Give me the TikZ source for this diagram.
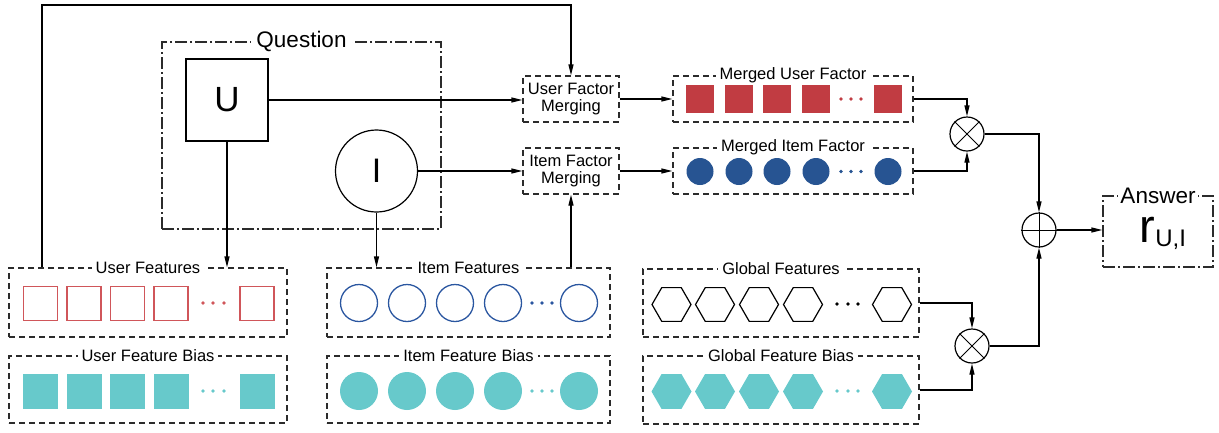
\documentclass[tikz,border=0pt]{standalone}
\usepackage{fontspec}
\setmainfont{Liberation Sans}
\usetikzlibrary{shapes.geometric,arrows.meta}
\definecolor{mred}{HTML}{C13C42}
\definecolor{fred}{HTML}{D0565A}
\definecolor{mblue}{HTML}{275492}
\definecolor{fblue}{HTML}{2A56A0}
\definecolor{bteal}{HTML}{67C9CB}
\definecolor{dline}{HTML}{2B2B2B}
\begin{document}
\begin{tikzpicture}[x=1pt,y=-1pt,line width=1.2pt,
    arr/.style={-{Triangle[length=11pt,width=5pt]}},
    dbox/.style={draw=dline,dash pattern=on 6pt off 4pt,inner sep=0},
    ddbox/.style={draw=dline,dash pattern=on 12pt off 3pt on 2pt off 3pt,inner sep=0},
    ttl/.style={fill=white,inner xsep=4pt,inner ysep=0pt,font=\fontsize{16.5}{18}\selectfont},
    bigttl/.style={fill=white,inner xsep=5pt,inner ysep=0pt,font=\fontsize{22.5}{24}\selectfont},
    opnode/.style={circle,draw,minimum size=34pt,inner sep=0},
    msq/.style={fill=mred,minimum size=28pt,inner sep=0},
    mdot/.style={circle,fill=mblue,minimum size=27pt,inner sep=0},
    fsq/.style={draw=fred,line width=1.4pt,minimum size=34pt,inner sep=0},
    bsq/.style={fill=bteal,minimum size=35pt,inner sep=0},
    fcirc/.style={circle,draw=fblue,line width=1.3pt,minimum size=37pt,inner sep=0},
    bcirc/.style={circle,fill=bteal,minimum size=38pt,inner sep=0},
    fhex/.style={regular polygon,regular polygon sides=6,draw,line width=1.2pt,minimum size=39pt,inner sep=0},
    bhex/.style={regular polygon,regular polygon sides=6,fill=bteal,minimum size=40pt,inner sep=0}]
    \useasboundingbox (0,0) rectangle (1219,432);

    % question part
    \node[ddbox,minimum width=279pt,minimum height=187pt] (question) at (301.5,135.5) {};
    \node[draw,minimum size=82pt,inner sep=0,font=\fontsize{35}{35}\selectfont] (U) at (227,100) {U};
    \node[circle,draw,minimum size=82pt,inner sep=0,font=\fontsize{34}{34}\selectfont] (I) at (376.5,171) {I};

    % merging
    \node[dbox,minimum width=96pt,minimum height=46pt,align=center,font=\fontsize{16.5}{17.5}\selectfont] (ufm) at (571,99) {User Factor\\Merging};
    \node[dbox,minimum width=96pt,minimum height=46pt,align=center,font=\fontsize{16.5}{17.5}\selectfont] (ifm) at (571,171) {Item Factor\\Merging};
    \node[dbox,minimum width=240pt,minimum height=46pt] (muf) at (793,99) {};
    \node[dbox,minimum width=240pt,minimum height=46pt] (mif) at (793,171) {};

    % feature boxes
    \node[dbox,minimum width=278pt,minimum height=69pt] (uf) at (148,302.5) {};
    \node[dbox,minimum width=278pt,minimum height=67pt] (ufb) at (148,389.5) {};
    \node[dbox,minimum width=283pt,minimum height=69pt] (if) at (468.5,302.5) {};
    \node[dbox,minimum width=283pt,minimum height=67pt] (ifb) at (468.5,389.5) {};
    \node[dbox,minimum width=276pt,minimum height=68pt] (gf) at (781,303) {};
    \node[dbox,minimum width=276pt,minimum height=68pt] (gfb) at (781,390) {};

    % operators and answer
    \node[opnode] (mul1) at (967,134) {};
    \node[opnode] (plus) at (1039,230) {};
    \node[opnode] (mul2) at (972,346) {};
    \draw[line width=1pt] (mul1.north west) -- (mul1.south east) (mul1.north east) -- (mul1.south west);
    \draw[line width=1pt] (mul2.north west) -- (mul2.south east) (mul2.north east) -- (mul2.south west);
    \draw[line width=1pt] (plus.north) -- (plus.south) (plus.west) -- (plus.east);
    \node[ddbox,minimum width=110pt,minimum height=71pt] (ans) at (1158,231.5) {};
    \node[anchor=base west,inner sep=0] (rui) at (1139,242)
        {{\fontsize{47}{47}\selectfont r}\raisebox{-4pt}{\fontsize{24}{24}\selectfont U,I}};

    % vector entries
    \foreach \x [count=\i] in {700,739,777,816,888}
        \node[msq] (ms\i) at (\x,99) {};
    \foreach \x [count=\i] in {700,739,777,816,888}
        \node[mdot] (md\i) at (\x,171.5) {};
    \foreach \x in {841,851,861} {
        \fill[mred] (\x,99) circle (1.8);
        \fill[mblue] (\x,171.5) circle (1.8);
    }
    \foreach \x [count=\i] in {40.5,84,127.5,171,257} {
        \node[fsq] (us\i) at (\x,303.5) {};
        \node[bsq] (ub\i) at (\x,391.5) {};
    }
    \foreach \x in {203,213,224} {
        \fill[fred] (\x,303) circle (1.8);
        \fill[bteal] (\x,391) circle (1.8);
    }
    \foreach \x [count=\i] in {359,407,455,503,579} {
        \node[fcirc] (ic\i) at (\x,303) {};
        \node[bcirc] (ib\i) at (\x,391) {};
    }
    \foreach \x in {532,542,552} {
        \fill[fblue] (\x,303) circle (1.8);
        \fill[bteal] (\x,391) circle (1.8);
    }
    \foreach \x [count=\i] in {671.5,715,759,803,892} {
        \node[fhex] (gh\i) at (\x,304.5) {};
        \node[bhex] (gb\i) at (\x,391.5) {};
    }
    \foreach \x in {837,848,858} {
        \fill[black] (\x,304) circle (1.8);
        \fill[bteal] (\x,391) circle (1.8);
    }

    % connectors
    \coordinate (looptop) at (42,5);
    \draw[arr] (looptop |- uf.north) -- (looptop) -| (ufm.north);
    \draw[arr] (U.east) -- (U.east -| ufm.west);
    \draw[arr] (I.east) -- (I.east -| ifm.west);
    \draw[arr] (U.south) -- (U.south |- uf.north);
    \draw[arr] (I.south) -- (I.south |- if.north);
    \draw[arr] (if.north -| ifm.south) -- (ifm.south);
    \draw[arr] (ufm.east) -- (muf.west);
    \draw[arr] (ifm.east) -- (mif.west);
    \draw[arr] (muf.east) -| (mul1.north);
    \draw[arr] (mif.east) -| (mul1.south);
    \draw[arr] (mul1.east) -| (plus.north);
    \draw[arr] (gf.east) -| (mul2.north);
    \draw[arr] (gfb.east) -| (mul2.south);
    \draw[arr] (mul2.east) -| (plus.south);
    \draw[arr] (plus.east) -- (plus.east -| ans.west);

    % titles
    \node[bigttl] (qtitle) at (question.north) {Question};
    \node[bigttl,inner xsep=2pt] (atitle) at (ans.north) {Answer};
    \node[ttl] (muftitle) at (muf.north) {Merged User Factor};
    \node[ttl] (miftitle) at (mif.north) {Merged Item Factor};
    \node[ttl] (uftitle) at (uf.north) {User Features};
    \node[ttl] (ufbtitle) at (ufb.north) {User Feature Bias};
    \node[ttl] (iftitle) at (if.north) {Item Features};
    \node[ttl] (ifbtitle) at (ifb.north) {Item Feature Bias};
    \node[ttl] (gftitle) at (gf.north) {Global Features};
    \node[ttl] (gfbtitle) at (gfb.north) {Global Feature Bias};
\end{tikzpicture}
\end{document}
